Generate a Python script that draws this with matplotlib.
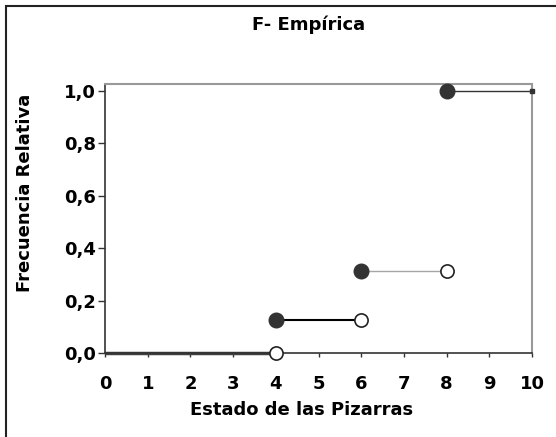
import matplotlib
matplotlib.use("Agg")
import matplotlib.pyplot as plt
from matplotlib.patches import Rectangle

plt.rcParams['font.family'] = ['DejaVu Sans']

# step data of the empirical distribution
starts = [0, 4, 6, 8]
ends = [4, 6, 8, 10]
levels = [0.0, 0.125, 0.3125, 1.0]
seg_colors = ['#404040', '#000000', '#a6a6a6', '#333333']
seg_widths = [2.5, 1.5, 1.0, 1.0]

filled_x = [4, 6, 8]
filled_y = [0.125, 0.3125, 1.0]
open_x = [4, 6, 8]
open_y = [0.0, 0.125, 0.3125]

xticks = list(range(0, 11))
yticks = [0.0, 0.2, 0.4, 0.6, 0.8, 1.0]
ytick_labels = ['0,0', '0,2', '0,4', '0,6', '0,8', '1,0']

W, H = 556, 437
fig = plt.figure(figsize=(W / 100, H / 100), dpi=100)
ax = fig.add_axes([105/W, 1 - 353/H, 427/W, 269/H])

for x0, x1, y, c, w in zip(starts, ends, levels, seg_colors, seg_widths):
    ax.plot([x0, x1], [y, y], color=c, lw=w, solid_capstyle='butt', zorder=2, clip_on=False)
ax.plot([ends[-1]], [levels[-1]], marker='s', ms=3.5, color='#333333', clip_on=False, zorder=3)

ax.plot(filled_x, filled_y, 'o', ms=10.5, color='#333333', mec='#333333', zorder=4, clip_on=False)
ax.plot(open_x, open_y, 'o', ms=9.5, mfc='white', mec='#222222', mew=1.2, zorder=4, clip_on=False)

ax.set_xlim(0, 10)
ax.set_ylim(0, 1.027)
ax.set_xticks(xticks)
ax.set_xticklabels([str(t) for t in xticks])
ax.set_yticks(yticks)
ax.set_yticklabels(ytick_labels)
ax.tick_params(direction='out', width=1, color='#333333', labelsize=13)
ax.tick_params(axis='x', length=3, pad=13)
ax.tick_params(axis='y', length=5, pad=1.5)
for lab in ax.get_xticklabels() + ax.get_yticklabels():
    lab.set_fontweight('bold')

for s in ['top', 'right']:
    ax.spines[s].set_color('#999999')
    ax.spines[s].set_linewidth(1.5)
for s in ['left', 'bottom']:
    ax.spines[s].set_color('#333333')
    ax.spines[s].set_linewidth(1.2)

fig.text(302/W, 1 - 410/H, 'Estado de las Pizarras', ha='center', va='center',
         fontsize=13, fontweight='bold')
fig.text(25/W, 1 - 193/H, 'Frecuencia Relativa', ha='center', va='center',
         rotation=90, fontsize=13, fontweight='bold')
fig.text(309/W, 1 - 25/H, 'F- Empírica', ha='center', va='center', fontsize=13, fontweight='bold')

# outer chart frame, cut off at right and bottom
fig.add_artist(Rectangle((6/W, -0.1), 1.2, 1 - 6/H + 0.1, transform=fig.transFigure,
                         fill=False, edgecolor='#222222', lw=1.5, clip_on=False))

fig.savefig('out.png', dpi=100)
